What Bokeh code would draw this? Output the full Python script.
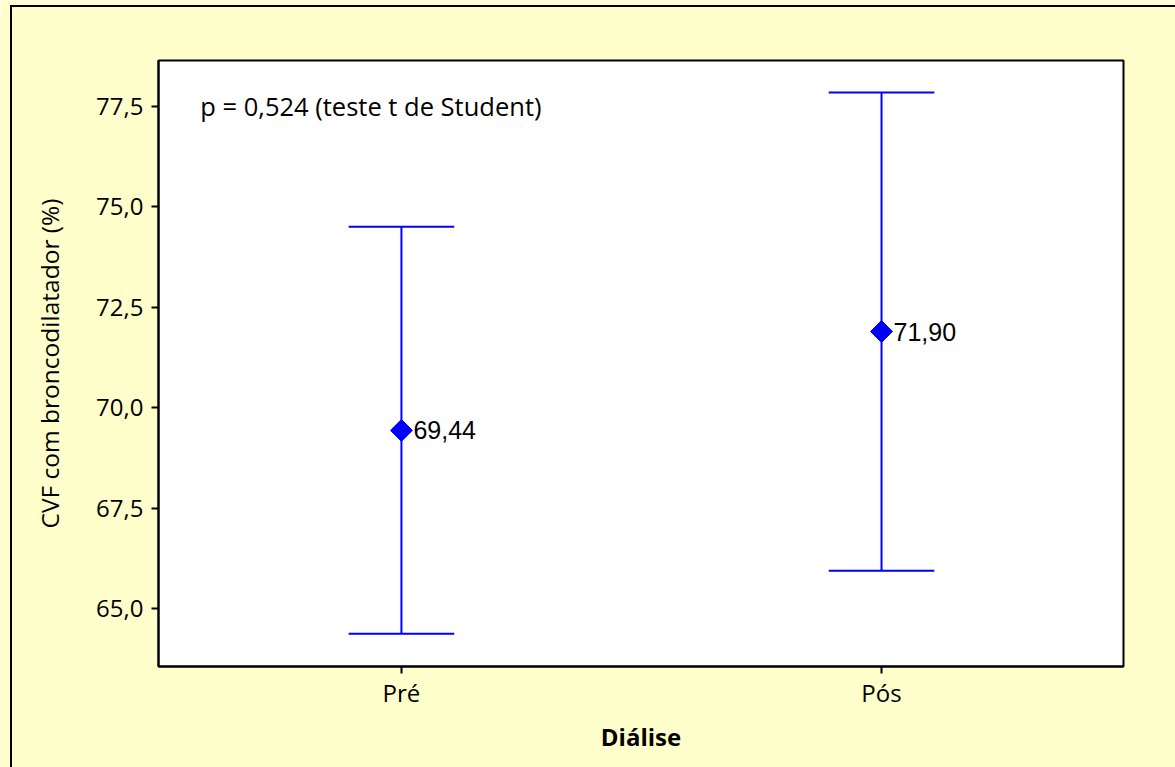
from bokeh.plotting import figure
from bokeh.models import FixedTicker, ColumnDataSource, Range1d
from bokeh.embed import file_html
from bokeh.resources import INLINE
from bokeh.core.properties import value

# ---- data ----
groups = ["Pré", "Pós"]
means = [69.44, 71.90]
lower = [64.38, 65.95]
upper = [74.51, 77.85]
mean_labels = ["69,44", "71,90"]
y_ticks = [65.0, 67.5, 70.0, 72.5, 75.0, 77.5]
y_tick_labels = ["65,0", "67,5", "70,0", "72,5", "75,0", "77,5"]
annotation = "p = 0,524 (teste t de Student)"

xs = [i + 1 for i in range(len(groups))]
cap_half = 0.11
src = ColumnDataSource(dict(
    x=xs, mean=means, lo=lower, hi=upper, lab=mean_labels,
    x0=[x - cap_half for x in xs], x1=[x + cap_half for x in xs],
))

BG = "#FFFFCC"
TICK_FONT = "Open Sans"

p = figure(width=1175, height=767, output_backend="svg", toolbar_location=None,
           x_range=Range1d(0.494, 2.504), y_range=Range1d(63.565, 78.644),
           min_border_left=158, min_border_top=60, min_border_right=52, min_border_bottom=101)
p.border_fill_color = BG
p.background_fill_color = "white"
p.outline_line_color = "black"
p.outline_line_width = 2
p.xgrid.visible = False
p.ygrid.visible = False

# error bars
p.segment(x0="x", y0="lo", x1="x", y1="hi", source=src, line_color="#0000FF", line_width=2)
p.segment(x0="x0", y0="hi", x1="x1", y1="hi", source=src, line_color="#0000FF", line_width=2)
p.segment(x0="x0", y0="lo", x1="x1", y1="lo", source=src, line_color="#0000FF", line_width=2)
p.scatter(x="x", y="mean", source=src, marker="square", size=15.5, angle=0.7853981634,
          fill_color="#0000FF", line_color="#0000FF")
p.text(x="x", y="mean", text="lab", source=src, x_offset=12, text_baseline="middle",
       text_align="left", text_font=value("Liberation Sans"), text_font_size="25px",
       text_color="black")

p.text(x=[0.581], y=[77.5], text=[annotation], text_baseline="middle", text_align="left",
       text_font=value(TICK_FONT), text_font_size="25.5px", text_color="black")

# axes
p.xaxis.ticker = FixedTicker(ticks=xs)
p.xaxis.major_label_overrides = {x: g for x, g in zip(xs, groups)}
p.yaxis.ticker = FixedTicker(ticks=y_ticks)
p.yaxis.major_label_overrides = {t: l for t, l in zip(y_ticks, y_tick_labels)}
for ax in (p.xaxis, p.yaxis):
    ax.axis_line_color = "black"
    ax.axis_line_width = 2
    ax.major_tick_line_width = 2
    ax.major_tick_out = 7
    ax.major_tick_in = 0
    ax.minor_tick_line_color = None
    ax.major_label_text_font = TICK_FONT
    ax.major_label_text_font_size = "24px"
    ax.major_label_text_color = "black"
    ax.axis_label_text_font = TICK_FONT
    ax.axis_label_text_font_size = "24px"
    ax.axis_label_text_color = "black"

p.xaxis.axis_label = "Diálise"
p.xaxis.axis_label_text_font_style = "bold"
p.xaxis.major_label_standoff = 2
p.xaxis.axis_label_standoff = 8
p.yaxis.axis_label = "CVF com broncodilatador (%)"
p.yaxis.axis_label_text_font_style = "normal"
p.yaxis.axis_label_text_font_size = "24.5px"
p.yaxis.major_label_standoff = 8
p.yaxis.axis_label_standoff = 27

html = file_html(p, INLINE)
html = html.replace("</body>",
    '<div style="position:fixed;left:10px;top:5px;right:-10px;bottom:-10px;'
    'border-left:2px solid #000;border-top:2px solid #000;pointer-events:none"></div></body>', 1)
open("out.html", "w").write(html)
